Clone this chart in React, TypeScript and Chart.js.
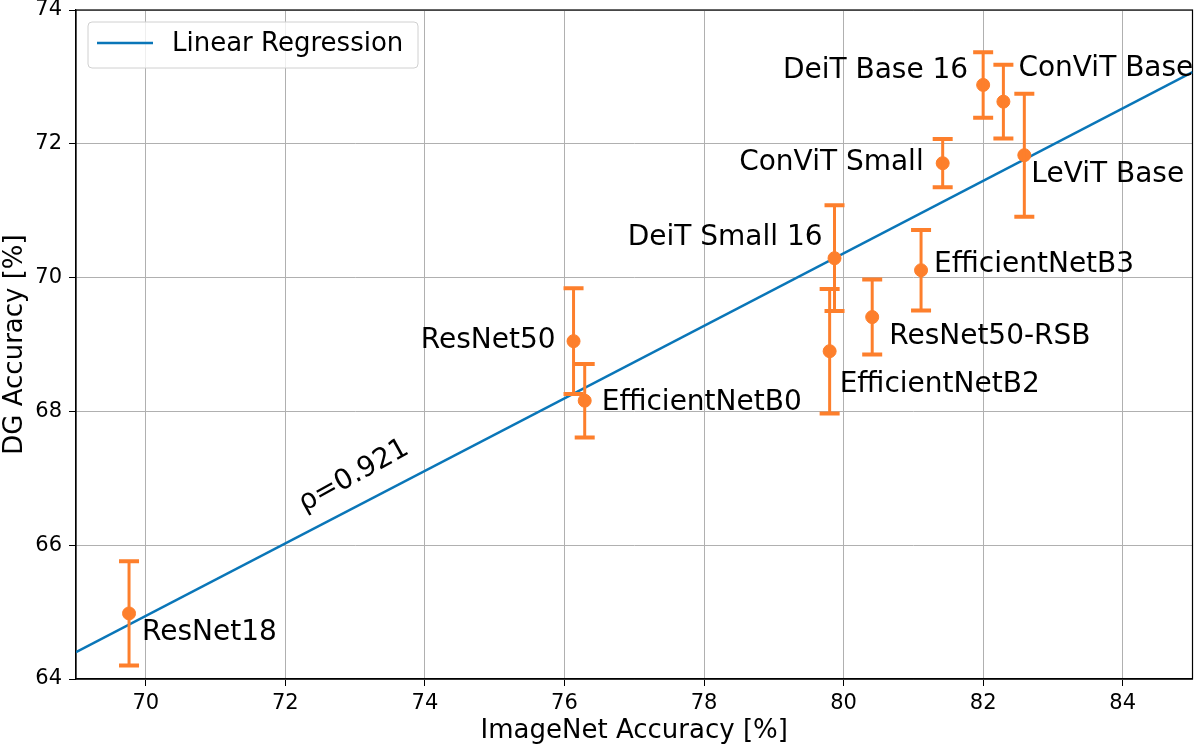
import { useEffect, useRef } from 'react';
import { Chart, registerables } from 'chart.js';

Chart.register(...registerables);

// model names and their accuracies (ImageNet vs DG), with symmetric error
const models = [
  'ResNet18',
  'ResNet50',
  'EfficientNetB0',
  'DeiT Small 16',
  'EfficientNetB2',
  'ResNet50-RSB',
  'EfficientNetB3',
  'ConViT Small',
  'LeViT Base',
  'DeiT Base 16',
  'ConViT Base',
];
const imagenetAcc = [69.76, 76.13, 76.29, 79.87, 79.8, 80.41, 81.11, 81.42, 82.59, 82.0, 82.29];
const dgAcc = [64.98, 69.05, 68.16, 70.29, 68.9, 69.41, 70.11, 71.71, 71.83, 72.88, 72.63];
const dgErr = [0.78, 0.79, 0.55, 0.79, 0.93, 0.56, 0.6, 0.36, 0.92, 0.49, 0.55];

// regression line end points
const regX = [69, 85];
const regY = [64.4, 73.07];
const corrText = 'ρ=0.921';

const xTicks = [70, 72, 74, 76, 78, 80, 82, 84];
const yTicks = [64, 66, 68, 70, 72, 74];

// label placement relative to each point: [dx, dy, align]
const labelPlacement: Array<[number, number, CanvasTextAlign]> = [
  [13, 19, 'left'],
  [-18, 0, 'right'],
  [17, 2, 'left'],
  [-12, -20, 'right'],
  [10, 34, 'left'],
  [17, 20, 'left'],
  [13, -6, 'left'],
  [-19, 0, 'right'],
  [7, 20, 'left'],
  [-15, -14, 'right'],
  [15, -33, 'left'],
];

const FONT = "'DejaVu Sans', sans-serif";
const BLUE = '#0a76b8';
const ORANGE = '#fd7f2c';

const overlayPlugin = {
  id: 'overlay',
  beforeDatasetsDraw(chart: any) {
    const { ctx } = chart;
    const a = chart.chartArea;
    ctx.save();
    ctx.strokeStyle = '#000';
    ctx.lineWidth = 1.2;
    ctx.strokeRect(a.left, a.top, a.right - a.left, a.bottom - a.top);
    ctx.restore();
  },
  afterDatasetDraw(chart: any, args: any) {
    if (args.index !== 0) return;
    const { ctx, scales } = chart;
    const xs = scales.x;
    const ys = scales.y;
    ctx.save();
    ctx.strokeStyle = ORANGE;
    for (let i = 0; i < models.length; i++) {
      const px = xs.getPixelForValue(imagenetAcc[i]);
      const top = ys.getPixelForValue(dgAcc[i] + dgErr[i]);
      const bot = ys.getPixelForValue(dgAcc[i] - dgErr[i]);
      ctx.lineWidth = 3;
      ctx.beginPath();
      ctx.moveTo(px, top);
      ctx.lineTo(px, bot);
      ctx.stroke();
      ctx.lineWidth = 4;
      ctx.beginPath();
      ctx.moveTo(px - 10, top);
      ctx.lineTo(px + 10, top);
      ctx.moveTo(px - 10, bot);
      ctx.lineTo(px + 10, bot);
      ctx.stroke();
    }
    ctx.restore();
  },
  afterDatasetsDraw(chart: any) {
    const { ctx, scales } = chart;
    const xs = scales.x;
    const ys = scales.y;
    ctx.save();
    ctx.fillStyle = '#000';
    ctx.font = `28px ${FONT}`;
    ctx.textBaseline = 'middle';
    for (let i = 0; i < models.length; i++) {
      const [dx, dy, align] = labelPlacement[i];
      ctx.textAlign = align;
      ctx.fillText(
        models[i],
        xs.getPixelForValue(imagenetAcc[i]) + dx,
        ys.getPixelForValue(dgAcc[i]) + dy
      );
    }
    // correlation text along the line
    ctx.translate(xs.getPixelForValue(72.27), ys.getPixelForValue(66.5));
    ctx.rotate((-29 * Math.PI) / 180);
    ctx.textAlign = 'left';
    ctx.textBaseline = 'alphabetic';
    ctx.fillText(corrText, 0, 0);
    ctx.restore();

    // legend box
    const a = chart.chartArea;
    ctx.save();
    const bx = a.left + 12;
    const by = a.top + 12;
    const bw = 330;
    const bh = 46;
    ctx.fillStyle = 'rgba(255,255,255,0.8)';
    ctx.strokeStyle = '#d0d0d0';
    ctx.lineWidth = 1;
    ctx.beginPath();
    ctx.roundRect(bx, by, bw, bh, 4);
    ctx.fill();
    ctx.stroke();
    ctx.strokeStyle = BLUE;
    ctx.lineWidth = 2.5;
    ctx.beginPath();
    ctx.moveTo(bx + 9, by + 21);
    ctx.lineTo(bx + 65, by + 21);
    ctx.stroke();
    ctx.fillStyle = '#000';
    ctx.font = `26px ${FONT}`;
    ctx.textBaseline = 'middle';
    ctx.textAlign = 'left';
    ctx.fillText(chart.data.datasets[1].label, bx + 84, by + 22);
    ctx.restore();
  },
};

export default function App() {
  const chartRef = useRef<HTMLCanvasElement>(null);
  const chartInstance = useRef<Chart | null>(null);

  useEffect(() => {
    document.body.style.margin = '0';
    if (!chartRef.current) return;
    if (chartInstance.current) chartInstance.current.destroy();
    const ctx = chartRef.current.getContext('2d');
    if (!ctx) return;

    chartInstance.current = new Chart(ctx, {
      type: 'scatter',
      data: {
        datasets: [
          {
            label: 'Models',
            data: models.map((_, i) => ({ x: imagenetAcc[i], y: dgAcc[i] })),
            backgroundColor: ORANGE,
            borderColor: ORANGE,
            pointRadius: 6.5,
            pointHoverRadius: 6.5,
            order: 1,
          },
          {
            type: 'line',
            label: 'Linear Regression',
            data: regX.map((x, i) => ({ x, y: regY[i] })),
            borderColor: BLUE,
            borderWidth: 2.5,
            pointRadius: 0,
            fill: false,
            order: 2,
          },
        ],
      },
      options: {
        animation: false,
        responsive: true,
        maintainAspectRatio: false,
        layout: { padding: { top: 10, right: 5, left: 0, bottom: 0 } },
        plugins: {
          legend: { display: false },
          tooltip: { enabled: false },
        },
        scales: {
          x: {
            type: 'linear',
            min: 69,
            max: 85,
            afterBuildTicks: (s: any) => {
              s.ticks = xTicks.map((v) => ({ value: v }));
            },
            afterFit: (s: any) => {
              s.height = 68;
              s.paddingLeft = 0;
              s.paddingRight = 0;
            },
            ticks: {
              color: '#000',
              font: { family: FONT, size: 21 },
              padding: 5,
            },
            grid: {
              color: '#b0b0b0',
              lineWidth: 1,
              tickColor: '#000',
              tickLength: 7,
            },
            border: { color: '#000', width: 1.2 },
            title: {
              display: true,
              text: 'ImageNet Accuracy [%]',
              color: '#000',
              font: { family: FONT, size: 26 },
              padding: { top: 0, bottom: 0 },
            },
          },
          y: {
            type: 'linear',
            min: 64,
            max: 74,
            afterBuildTicks: (s: any) => {
              s.ticks = yTicks.map((v) => ({ value: v }));
            },
            afterFit: (s: any) => {
              s.width = 76;
              s.paddingTop = 0;
              s.paddingBottom = 0;
            },
            ticks: {
              color: '#000',
              font: { family: FONT, size: 21 },
              padding: 7,
            },
            grid: {
              color: '#b0b0b0',
              lineWidth: 1,
              tickColor: '#000',
              tickLength: 7,
            },
            border: { color: '#000', width: 1.2 },
            title: {
              display: true,
              text: 'DG Accuracy [%]',
              color: '#000',
              font: { family: FONT, size: 26 },
              padding: { top: 0, bottom: 0 },
            },
          },
        },
      },
      plugins: [overlayPlugin],
    });

    return () => {
      if (chartInstance.current) {
        chartInstance.current.destroy();
        chartInstance.current = null;
      }
    };
  }, []);

  return (
    <div style={{ width: 1200, height: 747, position: 'relative', background: '#fff' }}>
      <canvas ref={chartRef} />
    </div>
  );
}
